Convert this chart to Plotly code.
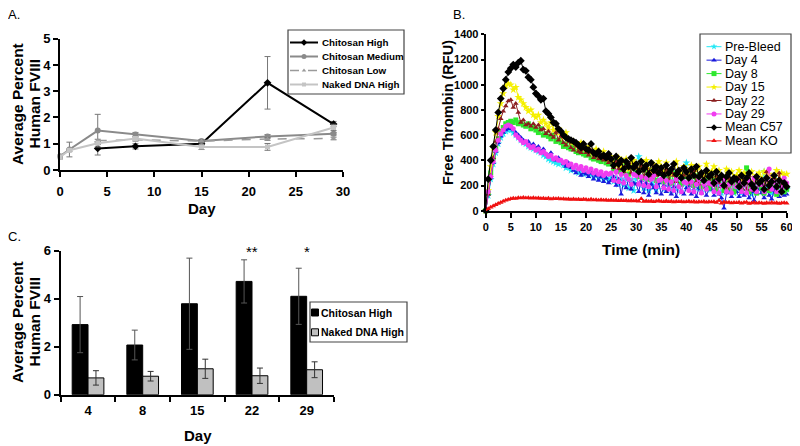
import plotly.graph_objects as go

W, H = 800, 446          # browser window
OFF = 8                  # default page body margin
FW, FH = W - OFF, H - OFF  # figure size so that it ends exactly at the window edge
FONT = "Arial, Liberation Sans, sans-serif"


def fx(x):
    return (x - OFF) / FW


def fy(y):
    return 1 - (y - OFF) / FH


# ---------------- Panel A data ----------------
a_high_days = [4, 8, 15, 22, 29]
a_high_vals = [0.82, 0.9, 1.0, 3.32, 1.75]
a_high_err = [0.25, 0.1, 0.08, 1.0, 0.1]

a_med_days = [0, 1, 4, 8, 15, 22, 29]
a_med_vals = [0.52, 0.78, 1.5, 1.35, 1.1, 1.28, 1.38]
a_med_err = [0.06, 0.28, 0.62, 0.08, 0.05, 0.07, 0.05]

a_low_days = [4, 8, 15, 22, 29]
a_low_vals = [1.12, 1.15, 1.1, 1.18, 1.2]
a_low_err = [0.05, 0.05, 0.05, 0.05, 0.05]

a_naked_days = [0, 1, 4, 8, 15, 22, 29]
a_naked_vals = [0.5, 0.75, 1.02, 1.2, 0.88, 0.88, 1.62]
a_naked_err = [0.08, 0.05, 0.05, 0.05, 0.1, 0.13, 0.12]

# ---------------- Panel B data (every 0.5 min, 0..60) ----------------
b_time = [i * 0.5 for i in range(121)]
b_prebleed = [0, 120, 250, 370, 460, 530, 580, 610, 630, 640,
              640, 620, 600, 580, 560, 540, 530, 510, 500, 490,
              480, 470, 460, 440, 430, 410, 400, 390, 380, 370,
              380, 360, 340, 350, 320, 330, 310, 300, 320, 290,
              300, 280, 290, 270, 280, 260, 270, 250, 260, 240,
              270, 230, 260, 210, 250, 200, 260, 180, 240, 160,
              250, 430, 210, 180, 240, 160, 230, 200, 170, 240,
              230, 170, 240, 190, 160, 230, 170, 220, 150, 210,
              380, 190, 220, 160, 230, 180, 150, 220, 170, 210,
              170, 210, 150, 200, 140, 220, 170, 150, 210, 140,
              180, 210, 140, 200, 160, 220, 130, 200, 170, 220,
              210, 310, 170, 230, 140, 190, 210, 160, 220, 180,
              170]
b_day4 = [0, 130, 260, 380, 470, 540, 590, 620, 640, 650,
          650, 640, 620, 600, 580, 560, 540, 550, 520, 530,
          500, 510, 470, 490, 450, 430, 460, 410, 400, 420,
          400, 370, 350, 380, 340, 320, 300, 330, 280, 300,
          290, 270, 300, 250, 280, 240, 270, 230, 260, 220,
          240, 270, 200, 250, 130, 230, 180, 250, 170, 220,
          210, 150, 240, 140, 220, 120, 210, 180, 140, 220,
          130, 200, 150, 210, 130, 190, 110, 200, 150, 130,
          180, 200, 130, 190, 110, 180, 140, 200, 120, 170,
          170, 120, 190, 130, 100, 20, 140, 180, 110, 160,
          150, 110, 180, 120, 170, 100, 150, 80, 140, 170,
          140, 100, 160, 120, 90, 160, 140, 110, 160, 120,
          130]
b_day8 = [0, 140, 300, 420, 500, 570, 620, 660, 690, 700,
          710, 700, 720, 690, 700, 680, 670, 690, 650, 660,
          640, 620, 650, 600, 610, 590, 570, 600, 550, 560,
          540, 510, 530, 500, 490, 510, 470, 460, 480, 450,
          440, 460, 420, 410, 440, 400, 390, 420, 380, 370,
          380, 330, 400, 310, 360, 300, 370, 290, 340, 350,
          320, 270, 340, 260, 320, 250, 310, 330, 240, 300,
          300, 230, 310, 260, 220, 300, 240, 290, 210, 280,
          270, 220, 290, 200, 260, 280, 190, 250, 270, 180,
          240, 260, 170, 250, 200, 160, 240, 180, 230, 150,
          210, 230, 160, 220, 340, 150, 200, 230, 140, 220,
          180, 140, 220, 160, 210, 250, 130, 190, 220, 150,
          170]
b_day15 = [0, 160, 350, 500, 620, 750, 850, 930, 990, 1010,
           1000, 960, 980, 900, 880, 850, 820, 790, 800, 760,
           740, 760, 700, 720, 690, 660, 700, 640, 620, 650,
           600, 580, 620, 560, 540, 550, 520, 500, 540, 490,
           480, 510, 460, 450, 490, 440, 430, 470, 420, 410,
           430, 380, 360, 420, 350, 390, 410, 330, 380, 400,
           360, 320, 390, 340, 400, 330, 300, 370, 320, 390,
           350, 300, 380, 310, 290, 360, 390, 300, 280, 350,
           330, 270, 360, 280, 320, 350, 290, 260, 370, 300,
           310, 350, 260, 320, 270, 240, 330, 260, 310, 250,
           280, 320, 240, 300, 230, 290, 310, 240, 280, 300,
           250, 310, 230, 290, 260, 240, 320, 250, 300, 280,
           290]
b_day22 = [0, 130, 280, 420, 550, 650, 730, 790, 830, 870,
           880, 820, 850, 780, 700, 720, 680, 690, 670, 690,
           660, 680, 640, 650, 610, 630, 600, 580, 620, 560,
           590, 540, 520, 560, 500, 480, 520, 470, 460, 490,
           460, 440, 480, 420, 450, 410, 430, 400, 420, 380,
           410, 340, 390, 330, 390, 310, 360, 380, 300, 360,
           350, 280, 360, 270, 340, 310, 260, 350, 280, 320,
           310, 250, 330, 240, 310, 280, 230, 320, 260, 280,
           300, 220, 290, 320, 230, 210, 290, 230, 320, 210,
           270, 200, 280, 220, 190, 270, 180, 260, 210, 250,
           240, 270, 180, 250, 170, 280, 200, 160, 260, 200,
           250, 180, 310, 170, 240, 260, 160, 300, 190, 240,
           200]
b_day29 = [0, 150, 270, 390, 480, 560, 610, 640, 670, 680,
           670, 650, 600, 580, 560, 540, 550, 520, 500, 510,
           480, 490, 460, 470, 450, 430, 440, 410, 420, 400,
           400, 380, 390, 360, 370, 340, 360, 330, 350, 320,
           340, 310, 330, 300, 320, 290, 310, 280, 300, 290,
           300, 240, 310, 230, 290, 220, 280, 250, 210, 290,
           280, 210, 270, 200, 260, 190, 250, 280, 190, 240,
           250, 180, 240, 170, 230, 160, 250, 190, 150, 230,
           220, 160, 230, 150, 210, 250, 140, 210, 170, 220,
           210, 150, 230, 140, 200, 240, 150, 210, 140, 250,
           190, 230, 150, 210, 140, 240, 170, 260, 150, 210,
           210, 150, 250, 330, 170, 230, 150, 240, 180, 260,
           220]
b_c57 = [0, 250, 400, 510, 640, 780, 890, 970, 1040, 1100,
         1130, 1160, 1140, 1175, 1190, 1120, 1110, 1060, 1040, 980,
         930, 910, 880, 890, 790, 770, 740, 700, 690, 650,
         630, 600, 580, 570, 560, 550, 540, 520, 500, 530,
         490, 480, 530, 460, 450, 470, 430, 440, 420, 450,
         410, 360, 430, 370, 400, 330, 390, 350, 420, 340,
         370, 310, 390, 330, 360, 290, 380, 320, 350, 300,
         340, 280, 360, 300, 330, 370, 290, 320, 260, 340,
         310, 260, 330, 280, 350, 270, 300, 240, 320, 270,
         290, 220, 310, 250, 280, 200, 270, 300, 230, 260,
         250, 190, 280, 220, 260, 300, 210, 180, 270, 220,
         240, 170, 260, 200, 230, 280, 190, 240, 150, 220,
         190]
b_ko = [0, 15, 28, 38, 48, 58, 66, 75, 82, 88,
        94, 98, 96, 102, 100, 104, 101, 103, 99, 102,
        98, 100, 96, 99, 95, 98, 93, 96, 94, 97,
        92, 95, 90, 93, 89, 92, 88, 91, 87, 90,
        88, 85, 90, 84, 87, 83, 86, 82, 85, 81,
        84, 80, 83, 79, 82, 78, 81, 77, 80, 76,
        78, 75, 95, 74, 77, 73, 76, 72, 75, 78,
        74, 71, 76, 72, 75, 70, 73, 71, 74, 69,
        72, 75, 70, 73, 68, 72, 70, 74, 67, 71,
        69, 72, 66, 80, 60, 70, 65, 68, 62, 66,
        64, 67, 60, 65, 68, 58, 62, 66, 60, 63,
        62, 58, 64, 60, 66, 59, 63, 57, 61, 64,
        60]
b_names = ["Pre-Bleed", "Day 4", "Day 8", "Day 15", "Day 22", "Day 29", "Mean C57", "Mean KO"]
b_series = [b_prebleed, b_day4, b_day8, b_day15, b_day22, b_day29, b_c57, b_ko]
b_colors = ["#22E8F5", "#1A1ADC", "#2EE82E", "#F5F000", "#8B1F1F", "#F03CF0", "#000000", "#F01010"]
b_symbols = ["star", "triangle-up", "square", "star", "triangle-up", "circle", "diamond", "triangle-up"]

# ---------------- Panel C data ----------------
c_days = ["4", "8", "15", "22", "29"]
c_high = [2.92, 2.07, 3.79, 4.72, 4.1]
c_high_err = [1.17, 0.62, 1.9, 0.9, 1.17]
c_naked = [0.7, 0.77, 1.08, 0.79, 1.04]
c_naked_err = [0.3, 0.2, 0.4, 0.32, 0.33]
c_sig = ["", "", "", "**", "*"]

fig = go.Figure()

# ---- Panel A traces ----
a_specs = [
    ("Chitosan High", a_high_days, a_high_vals, a_high_err, "#000000", "diamond", "solid", 2, 6),
    ("Chitosan Medium", a_med_days, a_med_vals, a_med_err, "#8A8A8A", "circle", "solid", 2, 6),
    ("Chitosan Low", a_low_days, a_low_vals, a_low_err, "#9A9A9A", "triangle-up", "dash", 1.5, 5),
    ("Naked DNA High", a_naked_days, a_naked_vals, a_naked_err, "#C4C4C4", "square", "solid", 2, 5),
]
for name, xs, ys, es, col, sym, dash, lw, ms in a_specs:
    fig.add_trace(go.Scatter(
        x=xs, y=ys, name=name, mode="lines+markers", xaxis="x", yaxis="y",
        line=dict(color=col, width=lw, dash=dash),
        marker=dict(color=col, symbol=sym, size=ms),
        error_y=dict(type="data", array=es, color="#777777", thickness=1, width=3),
        cliponaxis=False, showlegend=False))

# ---- Panel B traces ----
for name, ys, col, sym in zip(b_names, b_series, b_colors, b_symbols):
    fig.add_trace(go.Scatter(
        x=b_time, y=ys, name=name, mode="lines+markers", xaxis="x2", yaxis="y2",
        line=dict(color=col, width=1),
        marker=dict(color=col, symbol=sym, size=6 if sym in ("diamond", "star") else 5),
        cliponaxis=False, showlegend=False))

# ---- Panel C traces ----
fig.add_trace(go.Bar(
    x=c_days, y=c_high, name="Chitosan High", xaxis="x3", yaxis="y3",
    marker=dict(color="#000000", line=dict(color="#000000", width=1)),
    error_y=dict(type="data", array=c_high_err, color="#555555", thickness=1, width=3),
    showlegend=False))
fig.add_trace(go.Bar(
    x=c_days, y=c_naked, name="Naked DNA High", xaxis="x3", yaxis="y3",
    marker=dict(color="#C0C0C0", line=dict(color="#000000", width=1)),
    error_y=dict(type="data", array=c_naked_err, color="#333333", thickness=1, width=3),
    showlegend=False))

# ---- Manual legends on a pixel-space overlay axis ----
shapes = []
annotations = []


def add_legend(box, rows, y0, dy, x0, x1, tx, font):
    shapes.append(dict(type="rect", xref="x4", yref="y4", x0=box[0], x1=box[1], y0=box[2], y1=box[3],
                       line=dict(color="#444444", width=1.2), fillcolor="rgba(0,0,0,0)", layer="above"))
    for i, r in enumerate(rows):
        y = y0 + i * dy
        if r.get("line", True):
            fig.add_trace(go.Scatter(x=[x0, x1], y=[y, y], mode="lines", xaxis="x4", yaxis="y4",
                                     line=dict(color=r["color"], width=r.get("lw", 1), dash=r.get("dash", "solid")),
                                     showlegend=False, hoverinfo="skip"))
        fig.add_trace(go.Scatter(x=[(x0 + x1) / 2], y=[y], mode="markers", xaxis="x4", yaxis="y4",
                                 marker=dict(color=r["color"], symbol=r["symbol"], size=r.get("ms", 5),
                                             line=dict(color=r.get("mline", r["color"]), width=r.get("mlw", 0))),
                                 showlegend=False, hoverinfo="skip", cliponaxis=False))
        annotations.append(dict(xref="x4", yref="y4", x=tx, y=y, text=r["name"], showarrow=False,
                                xanchor="left", yanchor="middle", font=font))


add_legend((288, 404, 30, 94),
           [dict(name=s[0], color=s[4], symbol=s[5], dash=s[6], lw=s[7], ms=s[8] - 1) for s in a_specs],
           42.5, 14, 290, 318, 320, dict(family=FONT, size=9.8, color="black", weight="bold"))
add_legend((700, 791, 34, 153),
           [dict(name=n, color=c, symbol=s, ms=5) for n, c, s in zip(b_names, b_colors, b_symbols)],
           46.7, 13.45, 706.5, 721.5, 723, dict(family=FONT, size=12.5, color="black"))
add_legend((310, 407, 302, 342),
           [dict(name="Chitosan High", color="#000000", symbol="square", ms=7, line=False,
                 mline="#000000", mlw=1),
            dict(name="Naked DNA High", color="#C0C0C0", symbol="square", ms=7, line=False,
                 mline="#000000", mlw=1)],
           312.5, 19.8, 309, 321, 319, dict(family=FONT, size=10.5, color="black", weight="bold"))

# ---- significance markers ----
for i, s in enumerate(c_sig):
    if s:
        annotations.append(dict(xref="x3", yref="y3", x=i, y=5.95, text=s, showarrow=False,
                                yanchor="middle", font=dict(family=FONT, size=15, color="black")))


# ---- titles / panel letters ----
def ann(x, y, text, size, bold=True, angle=0):
    annotations.append(dict(xref="paper", yref="paper", x=fx(x), y=fy(y), text=text, showarrow=False,
                            textangle=angle, xanchor="center", yanchor="middle",
                            font=dict(family=FONT, size=size, color="black",
                                      weight="bold" if bold else "normal")))


ann(14, 14, "A.", 13, bold=False)
ann(459, 14, "B.", 13, bold=False)
ann(14, 236, "C.", 13, bold=False)
ann(17, 104, "Average Percent", 15.5, angle=-90)
ann(33.5, 104, "Human FVIII", 15.5, angle=-90)
ann(17, 322, "Average Percent", 15.5, angle=-90)
ann(33.5, 322, "Human FVIII", 15.5, angle=-90)
ann(448, 113, "Free Thrombin (RFU)", 14.5, angle=-90)
ann(202, 208, "Day", 15)
ann(641, 249, "Time (min)", 15.5)
ann(198, 435, "Day", 15)

ax_common = dict(showline=True, linecolor="black", linewidth=2, ticks="outside", tickcolor="black",
                 tickwidth=2, ticklen=5, showgrid=False, zeroline=False)

fig.update_layout(
    width=FW, height=FH, margin=dict(l=0, r=0, t=0, b=0, autoexpand=False),
    paper_bgcolor="white", plot_bgcolor="rgba(0,0,0,0)",
    showlegend=False, barmode="group", bargap=0.42, bargroupgap=0,
    xaxis=dict(domain=[fx(60), fx(343)], range=[0, 30], tickvals=[0, 5, 10, 15, 20, 25, 30],
               anchor="y", tickfont=dict(family=FONT, size=13, color="black", weight="bold"),
               ticklabelstandoff=3, **ax_common),
    yaxis=dict(domain=[fy(170), fy(38.7)], range=[0, 5], dtick=1, anchor="x",
               tickfont=dict(family=FONT, size=13, color="black", weight="bold"), **ax_common),
    xaxis2=dict(domain=[fx(485.7), fx(786.7)], range=[0, 60], dtick=5, anchor="y2",
                tickfont=dict(family=FONT, size=11, color="black", weight="bold"), **ax_common),
    yaxis2=dict(domain=[fy(210.7), fy(34.3)], range=[0, 1400], dtick=200, anchor="x2",
                tickfont=dict(family=FONT, size=11, color="black", weight="bold"),
                **{**ax_common, "ticklen": 3}),
    xaxis3=dict(domain=[fx(60.7), fx(334)], type="category", range=[-0.5, 4.5], anchor="y3",
                tickson="boundaries",
                tickfont=dict(family=FONT, size=13, color="black", weight="bold"),
                ticklabelstandoff=3, **ax_common),
    yaxis3=dict(domain=[fy(394.7), fy(250.7)], range=[0, 6], dtick=2, anchor="x3",
                tickfont=dict(family=FONT, size=13, color="black", weight="bold"), **ax_common),
    xaxis4=dict(domain=[0, 1], range=[OFF, W], visible=False, anchor="y4", fixedrange=True),
    yaxis4=dict(domain=[0, 1], range=[H, OFF], visible=False, anchor="x4", fixedrange=True),
    shapes=shapes, annotations=annotations,
)

fig.write_html("out.html")
